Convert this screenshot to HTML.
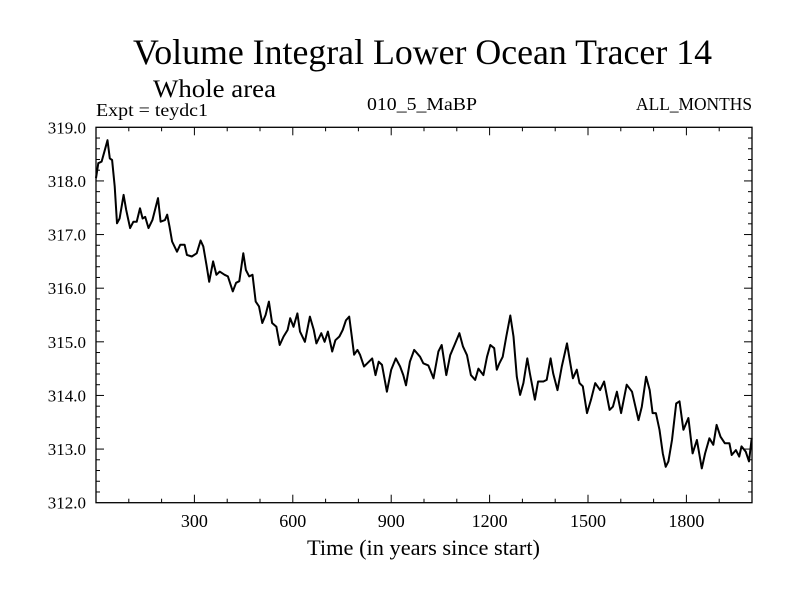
<!DOCTYPE html>
<html><head><meta charset="utf-8"><style>
html,body{margin:0;padding:0;background:#fff}
svg{display:block}
text{font-family:"Liberation Serif",serif;fill:#000}
</style></head><body>
<svg id="chart" width="800" height="600" viewBox="0 0 800 600">
<text x="133" y="64" font-size="36" textLength="579" lengthAdjust="spacingAndGlyphs">Volume Integral Lower Ocean Tracer 14</text>
<text x="153" y="97" font-size="25" textLength="123" lengthAdjust="spacingAndGlyphs">Whole area</text>
<text x="96" y="116" font-size="18" textLength="112" lengthAdjust="spacingAndGlyphs">Expt = teydc1</text>
<text x="367" y="110" font-size="18" textLength="110" lengthAdjust="spacingAndGlyphs">010_5_MaBP</text>
<text x="636" y="110" font-size="18" textLength="116" lengthAdjust="spacingAndGlyphs">ALL_MONTHS</text>
<text x="307" y="555" font-size="22" textLength="233" lengthAdjust="spacingAndGlyphs">Time (in years since start)</text>
<g id="axes"></g>
<rect x="96" y="127.3" width="656" height="375.4" fill="none" stroke="#000" stroke-width="1.3"/>
</svg>
<script>
const years=[0,7,17,27,35,42,49,57,64,72,84,92,104,114,124,134,142,150,160,172,189,197,210,217,224,232,247,257,270,277,292,307,319,327,337,345,357,367,377,392,402,417,427,437,449,457,467,477,487,497,507,517,527,537,550,560,572,584,592,602,614,622,637,652,664,672,687,697,707,720,730,742,752,762,772,780,787,797,805,817,827,842,852,862,872,887,900,914,927,937,945,957,970,988,998,1013,1029,1044,1054,1068,1080,1095,1108,1119,1131,1143,1156,1166,1181,1192,1202,1214,1222,1230,1240,1251,1263,1273,1283,1293,1303,1315,1323,1338,1348,1364,1374,1386,1394,1407,1420,1436,1446,1454,1466,1474,1484,1497,1509,1522,1537,1549,1566,1576,1588,1601,1618,1634,1654,1664,1677,1688,1697,1707,1718,1728,1737,1745,1756,1769,1779,1791,1806,1819,1832,1847,1857,1870,1882,1892,1904,1917,1931,1938,1951,1961,1968,1981,1991,1999];
const values=[318.05,318.33,318.36,318.58,318.76,318.42,318.39,317.9,317.21,317.3,317.74,317.46,317.12,317.24,317.24,317.49,317.3,317.33,317.12,317.27,317.68,317.24,317.27,317.37,317.15,316.87,316.68,316.81,316.81,316.62,316.59,316.65,316.89,316.78,316.43,316.12,316.5,316.25,316.31,316.25,316.22,315.94,316.1,316.13,316.65,316.34,316.22,316.25,315.75,315.66,315.35,315.5,315.75,315.35,315.28,314.94,315.1,315.22,315.44,315.28,315.53,315.19,315.0,315.47,315.22,314.97,315.16,315.0,315.19,314.82,315.03,315.1,315.22,315.4,315.47,315.1,314.76,314.85,314.76,314.54,314.6,314.69,314.38,314.63,314.57,314.07,314.48,314.69,314.54,314.38,314.19,314.63,314.85,314.72,314.6,314.56,314.32,314.82,314.94,314.38,314.75,314.97,315.16,314.91,314.75,314.38,314.29,314.5,314.38,314.72,314.94,314.88,314.48,314.6,314.72,315.1,315.49,315.1,314.35,314.01,314.23,314.69,314.41,313.92,314.26,314.26,314.29,314.69,314.41,314.1,314.54,314.97,314.6,314.32,314.48,314.23,314.17,313.67,313.92,314.23,314.1,314.26,313.73,313.79,314.07,313.67,314.2,314.07,313.54,313.79,314.35,314.1,313.67,313.67,313.36,312.92,312.67,312.77,313.17,313.85,313.89,313.36,313.58,312.92,313.17,312.64,312.92,313.2,313.08,313.45,313.23,313.11,313.11,312.89,312.98,312.86,313.05,312.95,312.77,313.2];
const xTicks=[300,600,900,1200,1500,1800];
const yTicks=[312,313,314,315,316,317,318,319];
const xMin=0,xMax=2000,yMin=312,yMax=319;
const L=96,R=752,T=127.3,B=502.7;
const sx=v=>L+(v-xMin)/(xMax-xMin)*(R-L);
const sy=v=>B-(v-yMin)/(yMax-yMin)*(B-T);
const NS='http://www.w3.org/2000/svg';
const g=document.getElementById('axes');
function ln(x1,y1,x2,y2,name){const e=document.createElementNS(NS,'line');
e.setAttribute('x1',x1);e.setAttribute('y1',y1);e.setAttribute('x2',x2);e.setAttribute('y2',y2);
e.setAttribute('stroke','#000');e.setAttribute('stroke-width','1');


g.appendChild(e);}
for(let v=100;v<xMax;v+=100){const x=sx(v);const major=v%300===0;const len=major?8:4;
ln(x,B,x,B-len,'x-tick');ln(x,T,x,T+len,'x-tick-top');}
for(let i=1;i<35;i++){const v=yMin+i*0.2;const y=sy(v);const major=i%5===0;const len=major?8:4;
ln(L,y,L+len,y,'y-tick');ln(R,y,R-len,y,'y-tick-right');}
xTicks.forEach(v=>{const t=document.createElementNS(NS,'text');
t.setAttribute('x',sx(v));t.setAttribute('y',527);t.setAttribute('font-size','18');t.setAttribute('text-anchor','middle');
t.textContent=v;


g.appendChild(t);});
yTicks.forEach(v=>{const t=document.createElementNS(NS,'text');
t.setAttribute('x',86);t.setAttribute('y',sy(v)+6);t.setAttribute('font-size','17');t.setAttribute('text-anchor','end');
t.textContent=v.toFixed(1);


g.appendChild(t);});
const p=document.createElementNS(NS,'polyline');
p.setAttribute('points',years.map((y,i)=>sx(y).toFixed(1)+','+sy(values[i]).toFixed(1)).join(' '));
p.setAttribute('fill','none');p.setAttribute('stroke','#000');p.setAttribute('stroke-width','2');p.setAttribute('stroke-linejoin','round');


g.appendChild(p);
</script>
</body></html>
